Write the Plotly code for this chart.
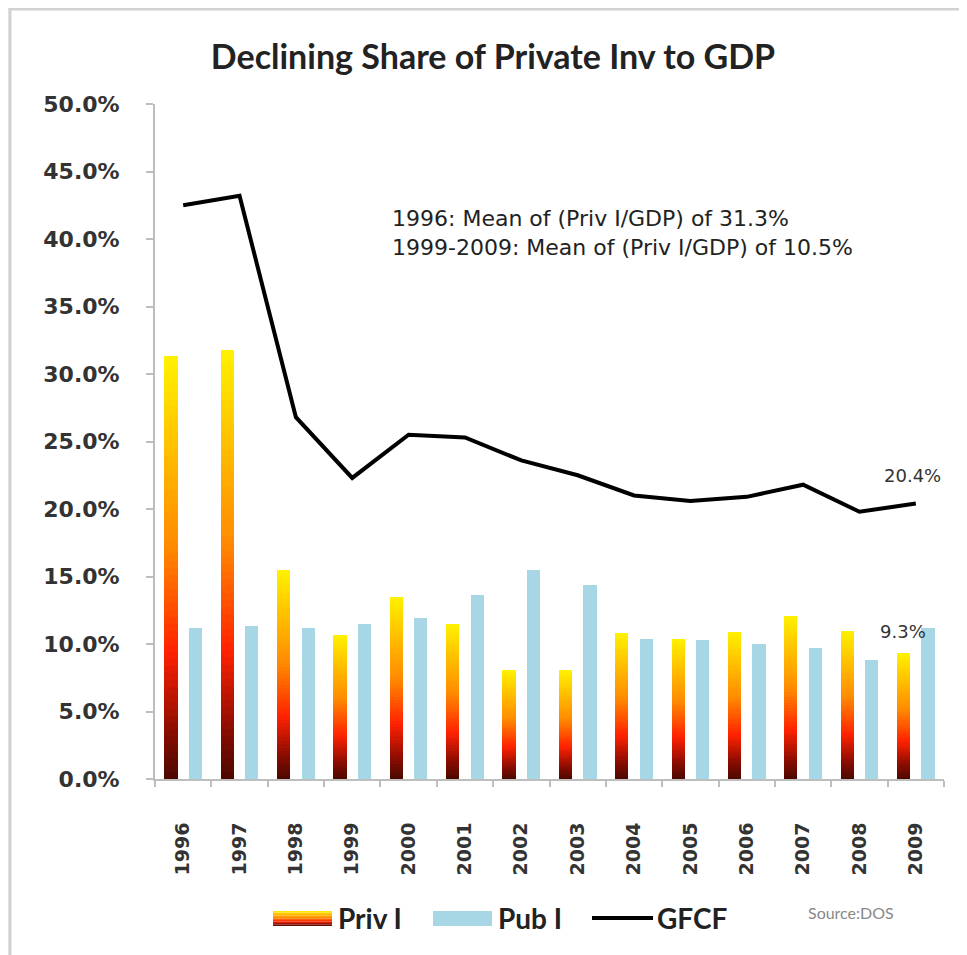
import plotly.graph_objects as go
from plotly.colors import sample_colorscale

years = ['1996', '1997', '1998', '1999', '2000', '2001', '2002',
         '2003', '2004', '2005', '2006', '2007', '2008', '2009']
priv_i = [31.3, 31.8, 15.5, 10.7, 13.5, 11.5, 8.1, 8.1, 10.8, 10.4, 10.9, 12.1, 11.0, 9.3]
pub_i = [11.2, 11.3, 11.2, 11.5, 11.9, 13.6, 15.5, 14.4, 10.4, 10.3, 10.0, 9.7, 8.8, 11.2]
gfcf = [42.5, 43.2, 26.8, 22.3, 25.5, 25.3, 23.6, 22.5, 21.0, 20.6, 20.9, 21.8, 19.8, 20.4]
y_ticks = [0, 5, 10, 15, 20, 25, 30, 35, 40, 45, 50]
y_ticktext = ['%.1f%%' % v for v in y_ticks]

title = "Declining Share of Private Inv to GDP"
note1 = "1996: Mean of (Priv I/GDP) of 31.3%"
note2 = "1999-2009: Mean of (Priv I/GDP) of 10.5%"

OFF = 8                      # page body margin
W, H = 967 - OFF, 955 - OFF  # figure size
L, R, T, B = 155, 944, 104, 779   # plot area in screen pixels


def px(x):
    return (x - L) / (R - L)


def py(y):
    return (B - y) / (B - T)


grad = [[0.0, '#4a0800'], [0.12, '#8e0c00'], [0.3, '#ff2200'],
        [0.55, '#ff8a00'], [0.78, '#ffbf00'], [1.0, '#fff200']]
pub_color = '#a7d7e5'

xs = list(range(len(years)))
fig = go.Figure()

N = 60
cols = sample_colorscale(grad, [(k + 0.5) / N for k in range(N)])
for k in range(N):
    fig.add_trace(go.Bar(
        x=xs, y=[v / N for v in priv_i], base=[v * k / N for v in priv_i],
        width=0.235, offset=-0.335, marker=dict(color=cols[k], line=dict(width=0)),
        name='Priv I', showlegend=False, hoverinfo='skip'))

fig.add_trace(go.Bar(x=xs, y=pub_i, width=0.235, offset=0.10,
                     marker=dict(color=pub_color, line=dict(width=0)),
                     name='Pub I', showlegend=False))
fig.add_trace(go.Scatter(x=xs, y=gfcf, mode='lines', name='GFCF',
                         line=dict(color='black', width=4), showlegend=False))

shapes = []
# page frame
shapes.append(dict(type='rect', xref='paper', yref='paper', layer='below',
                   x0=px(10), x1=px(1000), y0=py(1000), y1=py(9),
                   fillcolor='white', line=dict(color='#d2d2d2', width=3)))

# custom legend: gradient swatch for Priv I
sw_x0, sw_x1, sw_y0, sw_y1 = 273, 332, 911, 926
nb = 10
for i in range(nb):
    c = sample_colorscale(grad, [1 - (i + 0.5) / nb])[0]
    ya = sw_y0 + (sw_y1 - sw_y0) * i / nb
    yb = sw_y0 + (sw_y1 - sw_y0) * (i + 1) / nb
    shapes.append(dict(type='rect', xref='paper', yref='paper',
                       x0=px(sw_x0), x1=px(sw_x1), y0=py(yb), y1=py(ya),
                       fillcolor=c, line=dict(width=0)))
shapes.append(dict(type='rect', xref='paper', yref='paper',
                   x0=px(433), x1=px(492), y0=py(926), y1=py(911),
                   fillcolor=pub_color, line=dict(width=0)))
shapes.append(dict(type='line', xref='paper', yref='paper',
                   x0=px(592), x1=px(653), y0=py(918), y1=py(918),
                   line=dict(color='black', width=4)))

legfont = dict(family='Lato', size=28, color='#222222', weight='bold')
notefont = dict(family='DejaVu Sans', size=22, color='#222222')
annotations = [
    dict(text=note1, xref='paper', yref='paper', x=px(390), y=py(218),
         xanchor='left', yanchor='middle', showarrow=False, font=notefont),
    dict(text=note2, xref='paper', yref='paper', x=px(390), y=py(247),
         xanchor='left', yanchor='middle', showarrow=False, font=notefont),
    dict(text='20.4%', x=13, y=gfcf[13], xref='x', yref='y', yshift=28, xshift=-3,
         showarrow=False, font=dict(family='DejaVu Sans', size=18, color='#333333')),
    dict(text='9.3%', x=13 - 0.22, y=priv_i[13], xref='x', yref='y', yshift=22,
         showarrow=False, font=dict(family='DejaVu Sans', size=18, color='#333333')),
    dict(text='Priv I', xref='paper', yref='paper', x=px(336), y=py(918),
         xanchor='left', yanchor='middle', showarrow=False, font=legfont),
    dict(text='Pub I', xref='paper', yref='paper', x=px(496), y=py(918),
         xanchor='left', yanchor='middle', showarrow=False, font=legfont),
    dict(text='GFCF', xref='paper', yref='paper', x=px(655), y=py(918),
         xanchor='left', yanchor='middle', showarrow=False, font=legfont),
    dict(text='Source:DOS', xref='paper', yref='paper', x=px(806), y=py(912),
         xanchor='left', yanchor='middle', showarrow=False,
         font=dict(family='Lato', size=16, color='#888888')),
]

fig.update_layout(
    width=W, height=H,
    margin=dict(l=L - OFF, r=W - (R - OFF), t=T - OFF, b=H - (B - OFF), pad=0),
    paper_bgcolor='#efeee6', plot_bgcolor='rgba(0,0,0,0)',
    barmode='overlay', bargap=0,
    showlegend=False,
    title=dict(text=title, xref='container', x=(493 - OFF) / W, xanchor='center',
               y=1 - (57 - OFF) / H, yanchor='middle',
               font=dict(family='Lato', size=34, color='#222222', weight='bold')),
    shapes=shapes, annotations=annotations,
    xaxis=dict(range=[-0.5, 13.5], tickmode='array', tickvals=xs, ticktext=years,
               tickangle=-90, ticks='', showgrid=False, zeroline=False,
               showline=True, linecolor='#bdbdbd', linewidth=2,
               ticklabelstandoff=34,
               tickfont=dict(family='DejaVu Sans', size=19, color='#333333', weight='bold'),
               minor=dict(tickmode='array', tickvals=[i - 0.5 for i in range(len(years) + 1)],
                          ticks='outside', ticklen=6, tickcolor='#bdbdbd', tickwidth=2,
                          showgrid=False)),
    yaxis=dict(range=[0, 50], tickmode='array', tickvals=y_ticks, ticktext=y_ticktext,
               showgrid=False, zeroline=False,
               showline=True, linecolor='#bdbdbd', linewidth=2,
               ticks='outside', ticklen=7, tickcolor='#bdbdbd', tickwidth=2,
               ticklabelstandoff=22,
               tickfont=dict(family='DejaVu Sans', size=22, color='#333333', weight='bold')),
)

fig.write_html("out.html")
